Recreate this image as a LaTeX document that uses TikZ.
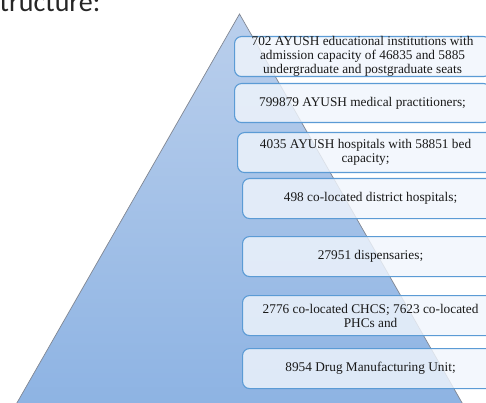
\documentclass[tikz,border=0pt]{standalone}
\usepackage{fontspec}
\setmainfont{Liberation Serif}
\newfontfamily\headfont{Carlito}
\definecolor{pyrtop}{RGB}{186,207,236}
\definecolor{pyrbot}{RGB}{141,179,227}
\definecolor{pyredge}{RGB}{128,134,146}
\definecolor{boxedge}{RGB}{91,155,213}
\definecolor{boxfill}{RGB}{240,245,252}
\definecolor{boxtext}{RGB}{25,25,25}
\begin{document}
\begin{tikzpicture}[x=1pt,y=-1pt,
  tier/.style={draw=boxedge, line width=1.1pt, rounded corners=7pt,
    fill=boxfill, fill opacity=0.82, text opacity=1,
    minimum width=256pt, minimum height=40pt, anchor=north west,
    inner sep=0pt, align=center, text=boxtext,
    font=\fontsize{13.3}{13.8}\selectfont},
  heading/.style={anchor=base west, inner sep=0pt, text=black!85,
    font=\headfont\fontsize{28}{32}\selectfont}]
  \useasboundingbox (0,0) rectangle (486,403);
  \clip (0,0) rectangle (486,403);

  % pyramid
  \shade[top color=pyrtop, bottom color=pyrbot, draw=pyredge, line width=0.7pt]
    (239.5,14) -- (465,408) -- (14,408) -- cycle;
  \coordinate (apex) at (239.5,14);

  % heading, running off the top edge
  \node[heading] (head) at (-0.5,11.3) {tructure:\raisebox{1.5pt}{\textsuperscript{17}}};

  % tiers
  \node[tier] (t1) at (234,36)  {702 AYUSH educational institutions with\\admission capacity of 46835 and 5885\\undergraduate and postgraduate seats};
  \node[tier, minimum height=39pt] (t2) at (234,83)  {799879 AYUSH medical practitioners;};
  \node[tier] (t3) at (237,132) {4035 AYUSH hospitals with 58851 bed\\capacity;};
  \node[tier] (t4) at (242,178) {498 co-located district hospitals;};
  \node[tier] (t5) at (242,236) {27951 dispensaries;};
  \node[tier] (t6) at (242,295) {2776 co-located CHCS; 7623 co-located\\PHCs and};
  \node[tier] (t7) at (242,348) {8954 Drug Manufacturing Unit;};
\end{tikzpicture}
\end{document}
